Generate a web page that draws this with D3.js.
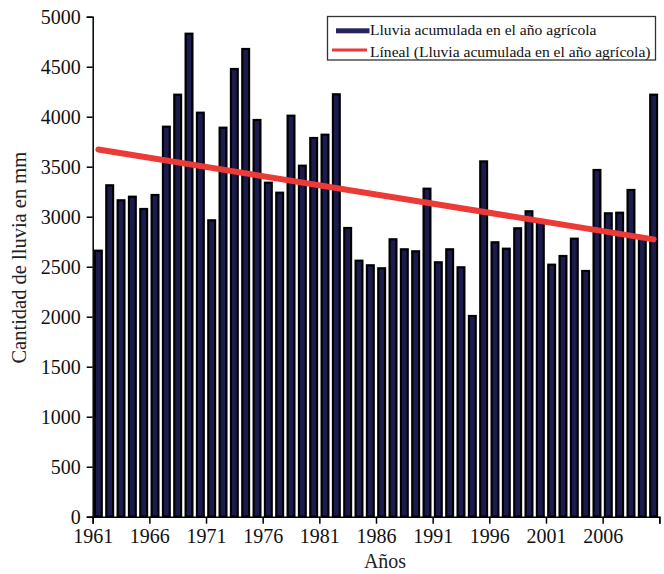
<!DOCTYPE html>
<html>
<head>
<meta charset="utf-8">
<script src="https://cdn.jsdelivr.net/npm/d3@7"></script>
<style>
html,body{margin:0;padding:0;background:#fff;}
svg{display:block;}
</style>
</head>
<body>
<svg id="chart" width="664" height="574"></svg>
<script>
const years = d3.range(1961, 2011);
const rainfall = [
  2660, 3314, 3164, 3200, 3077, 3217, 3900, 4220, 4830, 4040,
  2964, 3890, 4477, 4677, 3967, 3340, 3240, 4010, 3510, 3787,
  3820, 4224, 2887, 2560, 2514, 2484, 2774, 2674, 2654, 3280,
  2544, 2674, 2494, 2007, 3553, 2744, 2680, 2884, 3054, 2950,
  2520, 2607, 2780, 2457, 3467, 3034, 3040, 3267, 2790, 4220
];
const xTickValues = [1961, 1966, 1971, 1976, 1981, 1986, 1991, 1996, 2001, 2006, 2011];
const xTickLabels = ["1961", "1966", "1971", "1976", "1981", "1986", "1991", "1996", "2001", "2006", ""];
const yTicks = [0, 500, 1000, 1500, 2000, 2500, 3000, 3500, 4000, 4500, 5000];
const seriesName = "Lluvia acumulada en el año agrícola";
const trendName = "Líneal (Lluvia acumulada en el año agrícola)";

const FONT = "'Liberation Serif','Times New Roman',serif";
const svg = d3.select("#chart");
const pLeft = 92.7, pRight = 659.3, pTop = 16.7, pBottom = 516.7;

const x = d3.scaleBand().domain(years).range([pLeft, pRight]).paddingInner(0.4).paddingOuter(0.2);
const xEdge = d3.scaleLinear().domain([1961, 2011]).range([pLeft, pRight]);
const y = d3.scaleLinear().domain([0, 5000]).range([pBottom, pTop]);

// bars
svg.append("g").selectAll("rect").data(years).join("rect")
  .attr("x", d => x(d))
  .attr("y", (d, i) => y(rainfall[i]))
  .attr("width", x.bandwidth())
  .attr("height", (d, i) => y(0) - y(rainfall[i]))
  .attr("fill", "#1c1b4e")
  .attr("stroke", "#000")
  .attr("stroke-width", 2.2);

// linear trend (least squares)
const n = years.length;
const mx = d3.mean(years), my = d3.mean(rainfall);
let sxy = 0, sxx = 0;
years.forEach((yr, i) => { sxy += (yr - mx) * (rainfall[i] - my); sxx += (yr - mx) * (yr - mx); });
const slope = sxy / sxx, intercept = my - slope * mx;
const trend = [years[0], years[n - 1]].map(yr => [yr, intercept + slope * yr]);
svg.append("path")
  .datum(trend)
  .attr("d", d3.line().x(d => x(d[0]) + x.bandwidth() / 2).y(d => y(d[1])))
  .attr("fill", "none")
  .attr("stroke", "#ec3a36")
  .attr("stroke-width", 6)
  .attr("stroke-linecap", "round");

// axes
const yAxis = svg.append("g").attr("transform", `translate(${pLeft},0)`)
  .call(d3.axisLeft(y).tickValues(yTicks).tickSize(6).tickPadding(6).tickFormat(d3.format("d")));
const xAxis = svg.append("g").attr("transform", `translate(0,${pBottom})`)
  .call(d3.axisBottom(xEdge).tickValues(xTickValues).tickSize(7).tickPadding(5)
    .tickFormat((d, i) => xTickLabels[i]));
[yAxis, xAxis].forEach(g => {
  g.attr("font-family", FONT).attr("font-size", 20);
  g.select(".domain").attr("stroke", "#000").attr("stroke-width", 1.5);
  g.selectAll(".tick line").attr("stroke", "#000").attr("stroke-width", 1.5);
  g.selectAll("text").attr("fill", "#111");
});

// axis titles
svg.append("text")
  .attr("transform", `translate(26,${(pTop + pBottom) / 2 - 9}) rotate(-90)`)
  .attr("text-anchor", "middle")
  .attr("font-family", FONT).attr("font-size", 20.5).attr("fill", "#222")
  .text("Cantidad de lluvia en mm");
svg.append("text")
  .attr("x", 385).attr("y", 568)
  .attr("text-anchor", "middle")
  .attr("font-family", FONT).attr("font-size", 20).attr("fill", "#222")
  .text("Años");

// legend
const lg = svg.append("g").attr("font-family", FONT).attr("font-size", 15.6);
lg.append("rect").attr("x", 327.5).attr("y", 16.5).attr("width", 328).attr("height", 43.5)
  .attr("fill", "#fff").attr("stroke", "#333").attr("stroke-width", 1.3);
lg.append("rect").attr("x", 336).attr("y", 28.3).attr("width", 33.5).attr("height", 5)
  .attr("fill", "#25245e");
lg.append("line").attr("x1", 332).attr("x2", 367).attr("y1", 50).attr("y2", 50)
  .attr("stroke", "#ec3a36").attr("stroke-width", 3);
lg.append("text").attr("x", 370).attr("y", 35).attr("fill", "#111").text(seriesName);
lg.append("text").attr("x", 370).attr("y", 56.5).attr("fill", "#111").text(trendName);
</script>
</body>
</html>
